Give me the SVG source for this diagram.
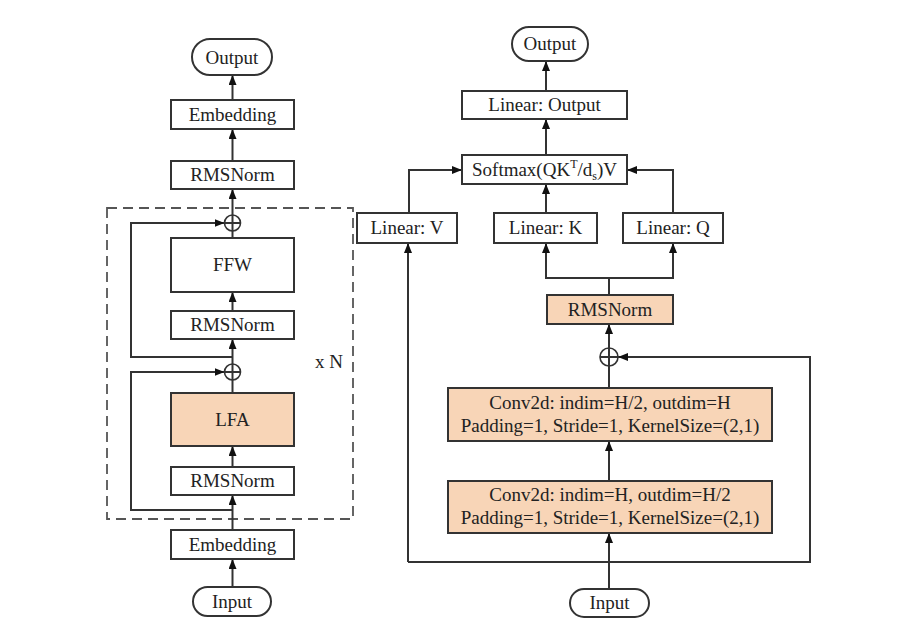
<svg xmlns="http://www.w3.org/2000/svg" width="903" height="634" viewBox="0 0 903 634">
<defs>
<style>
.box{fill:#fff;stroke:#333;stroke-width:2}
.hl{fill:#F8D5B7;stroke:#333;stroke-width:2}
.t{font-family:"Liberation Serif","Times New Roman",serif;font-size:19px;fill:#222;text-anchor:middle}
.ln{fill:none;stroke:#333;stroke-width:2}
.arr{fill:none;stroke:#333;stroke-width:2;marker-end:url(#ah)}
.dash{fill:none;stroke:#555;stroke-width:1.8;stroke-dasharray:10 6}
.plus{fill:#fff;stroke:#333;stroke-width:1.6}
</style>
<marker id="ah" viewBox="0 0 10 8" refX="10" refY="4" markerWidth="10" markerHeight="8" markerUnits="userSpaceOnUse" orient="auto">
<path d="M0,0 L10,4 L0,8 z" fill="#111"/>
</marker>
</defs>
<rect width="903" height="634" fill="#fff"/>

<g id="left-block">
<rect class="dash" x="107" y="208" width="246" height="311"/>
<text class="t" x="329" y="368">x N</text>
</g>

<g id="connectors">
<!-- left column -->
<line class="arr" x1="232.5" y1="100" x2="232.5" y2="75"/>
<line class="arr" x1="232.5" y1="161" x2="232.5" y2="129"/>
<line class="arr" x1="232.5" y1="215" x2="232.5" y2="189"/>
<line class="ln" x1="232.5" y1="238" x2="232.5" y2="231"/>
<polyline class="arr" points="232.5,357 131,357 131,223 224.5,223"/>
<line class="arr" x1="232.5" y1="311" x2="232.5" y2="292"/>
<line class="arr" x1="232.5" y1="364" x2="232.5" y2="339"/>
<line class="ln" x1="232.5" y1="393" x2="232.5" y2="380"/>
<polyline class="arr" points="232.5,510 131,510 131,372 224.5,372"/>
<line class="arr" x1="232.5" y1="467" x2="232.5" y2="446"/>
<line class="arr" x1="232.5" y1="530" x2="232.5" y2="495"/>
<line class="arr" x1="232.5" y1="587" x2="232.5" y2="559"/>
<!-- right column -->
<line class="arr" x1="546" y1="91" x2="546" y2="61"/>
<line class="arr" x1="546" y1="155" x2="546" y2="119"/>
<line class="arr" x1="546" y1="213" x2="546" y2="184"/>
<polyline class="arr" points="409,213 409,170 462,170"/>
<polyline class="arr" points="673,213 673,170 627,170"/>
<line class="ln" x1="609" y1="295" x2="609" y2="278"/>
<line class="ln" x1="545" y1="278" x2="674" y2="278"/>
<line class="arr" x1="546" y1="278" x2="546" y2="243"/>
<line class="arr" x1="673" y1="278" x2="673" y2="243"/>
<line class="arr" x1="609" y1="348" x2="609" y2="324"/>
<line class="ln" x1="609" y1="388" x2="609" y2="366"/>
<line class="arr" x1="609" y1="481" x2="609" y2="441"/>
<line class="arr" x1="609" y1="589" x2="609" y2="533"/>
<polyline class="arr" points="408,562 810,562 810,357 618,357"/>
<line class="arr" x1="408" y1="562" x2="408" y2="243"/>
</g>

<g id="left-output"><rect class="box" x="192" y="39" width="80" height="36" rx="18"/><text class="t" x="232" y="63.5">Output</text></g>
<g id="left-embedding-top"><rect class="box" x="171" y="100" width="123" height="29"/><text class="t" x="232.5" y="120.5">Embedding</text></g>
<g id="left-rmsnorm-top"><rect class="box" x="171" y="161" width="123" height="28"/><text class="t" x="232.5" y="181">RMSNorm</text></g>
<g id="left-plus-1"><circle class="plus" cx="232.5" cy="223" r="8"/><path class="ln" d="M224.5,223 H240.5 M232.5,215 V231" stroke-width="1.4"/></g>
<g id="left-ffw"><rect class="box" x="171" y="238" width="123" height="54"/><text class="t" x="232.5" y="271">FFW</text></g>
<g id="left-rmsnorm-mid"><rect class="box" x="171" y="311" width="123" height="28"/><text class="t" x="232.5" y="331">RMSNorm</text></g>
<g id="left-plus-2"><circle class="plus" cx="232.5" cy="372" r="8"/><path class="ln" d="M224.5,372 H240.5 M232.5,364 V380" stroke-width="1.4"/></g>
<g id="left-lfa"><rect class="hl" x="171" y="393" width="123" height="53"/><text class="t" x="232.5" y="425.5">LFA</text></g>
<g id="left-rmsnorm-bot"><rect class="box" x="171" y="467" width="123" height="28"/><text class="t" x="232.5" y="487">RMSNorm</text></g>
<g id="left-embedding-bot"><rect class="box" x="171" y="530" width="123" height="29"/><text class="t" x="232.5" y="550.5">Embedding</text></g>
<g id="left-input"><rect class="box" x="193" y="587" width="78" height="29" rx="14.5"/><text class="t" x="232" y="607.5">Input</text></g>

<g id="right-output"><rect class="box" x="512" y="27" width="76" height="34" rx="17"/><text class="t" x="550" y="50">Output</text></g>
<g id="right-linear-output"><rect class="box" x="462" y="91" width="165" height="28"/><text class="t" x="544.5" y="111">Linear: Output</text></g>
<g id="right-softmax"><rect class="box" x="462" y="155" width="165" height="29"/><text class="t" x="544.5" y="176">Softmax(QK<tspan font-size="12" dy="-8">T</tspan><tspan dy="8">/d</tspan><tspan font-size="12" dy="4">s</tspan><tspan dy="-4">)V</tspan></text></g>
<g id="right-linear-v"><rect class="box" x="357" y="213" width="100" height="30"/><text class="t" x="407" y="234">Linear: V</text></g>
<g id="right-linear-k"><rect class="box" x="494" y="213" width="103" height="30"/><text class="t" x="545.5" y="234">Linear: K</text></g>
<g id="right-linear-q"><rect class="box" x="623" y="213" width="100" height="30"/><text class="t" x="673" y="234">Linear: Q</text></g>
<g id="right-rmsnorm"><rect class="hl" x="547" y="295" width="126" height="29"/><text class="t" x="610" y="316">RMSNorm</text></g>
<g id="right-plus"><circle class="plus" cx="609" cy="357" r="9"/><path class="ln" d="M600,357 H618 M609,348 V366" stroke-width="1.4"/></g>
<g id="right-conv1"><rect class="hl" x="448" y="388" width="324" height="53"/><text class="t" x="610" y="409">Conv2d: indim=H/2, outdim=H</text><text class="t" x="610" y="432">Padding=1, Stride=1, KernelSize=(2,1)</text></g>
<g id="right-conv2"><rect class="hl" x="448" y="481" width="324" height="52"/><text class="t" x="610" y="501">Conv2d: indim=H, outdim=H/2</text><text class="t" x="610" y="524">Padding=1, Stride=1, KernelSize=(2,1)</text></g>
<g id="right-input"><rect class="box" x="570" y="589" width="79" height="28" rx="14"/><text class="t" x="609.5" y="609">Input</text></g>
</svg>
